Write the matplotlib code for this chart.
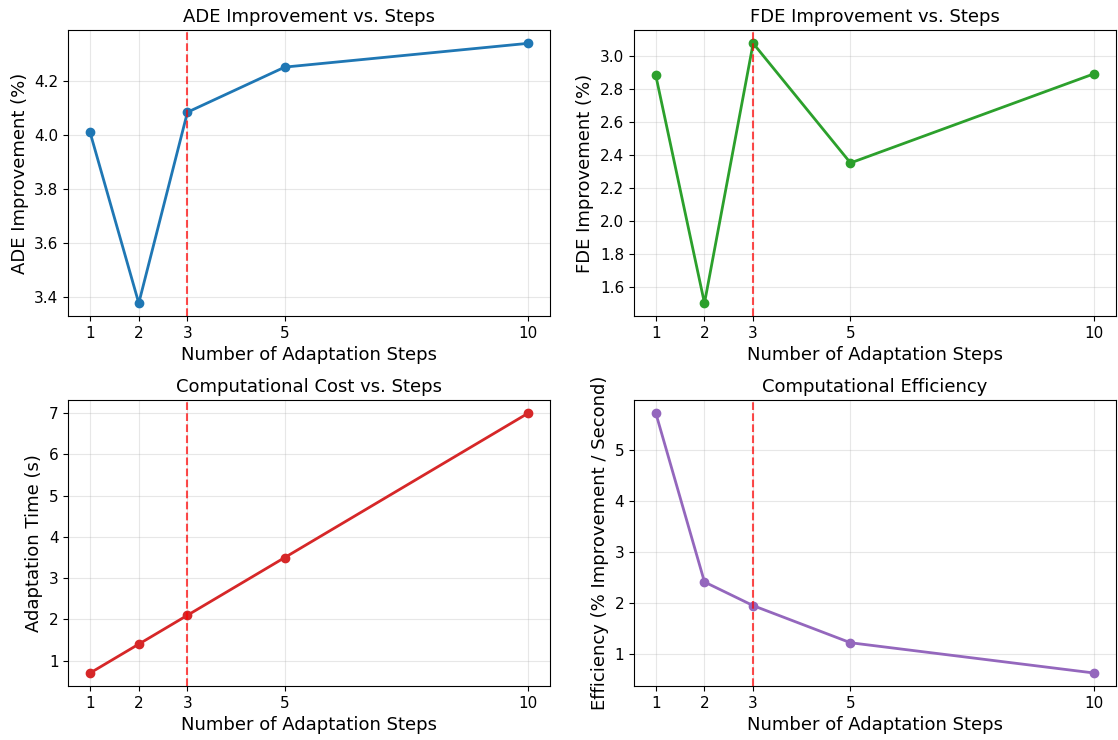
import matplotlib
matplotlib.use("Agg")
import matplotlib.pyplot as plt

steps = [1, 2, 3, 5, 10]
ade_improvement = [4.01, 3.378, 4.085, 4.252, 4.34]
fde_improvement = [2.88, 1.50, 3.075, 2.35, 2.89]
adapt_time = [0.7, 1.4, 2.1, 3.5, 7.0]
efficiency = [5.73, 2.41, 1.945, 1.215, 0.62]
best_step = 3

fig, axes = plt.subplots(2, 2, figsize=(11.18, 7.40), dpi=100)
plt.subplots_adjust(left=0.061, right=0.998, top=0.959, bottom=0.073,
                    wspace=0.174, hspace=0.294)

panels = [
    (axes[0, 0], ade_improvement, 'tab:blue', 'ADE Improvement (%)', 'ADE Improvement vs. Steps'),
    (axes[0, 1], fde_improvement, 'tab:green', 'FDE Improvement (%)', 'FDE Improvement vs. Steps'),
    (axes[1, 0], adapt_time, 'tab:red', 'Adaptation Time (s)', 'Computational Cost vs. Steps'),
    (axes[1, 1], efficiency, 'tab:purple', 'Efficiency (% Improvement / Second)', 'Computational Efficiency'),
]

for ax, vals, col, ylab, title in panels:
    ax.plot(steps, vals, 'o-', color=col, linewidth=2, markersize=6)
    ax.axvline(x=best_step, color='red', linestyle='--', alpha=0.7)
    ax.set_xlabel('Number of Adaptation Steps', fontsize=13)
    ax.set_ylabel(ylab, fontsize=13)
    ax.set_title(title, fontsize=13)
    ax.set_xticks(steps)
    ax.tick_params(labelsize=11)
    ax.grid(True, alpha=0.3)

plt.savefig('out.png', dpi=100)
